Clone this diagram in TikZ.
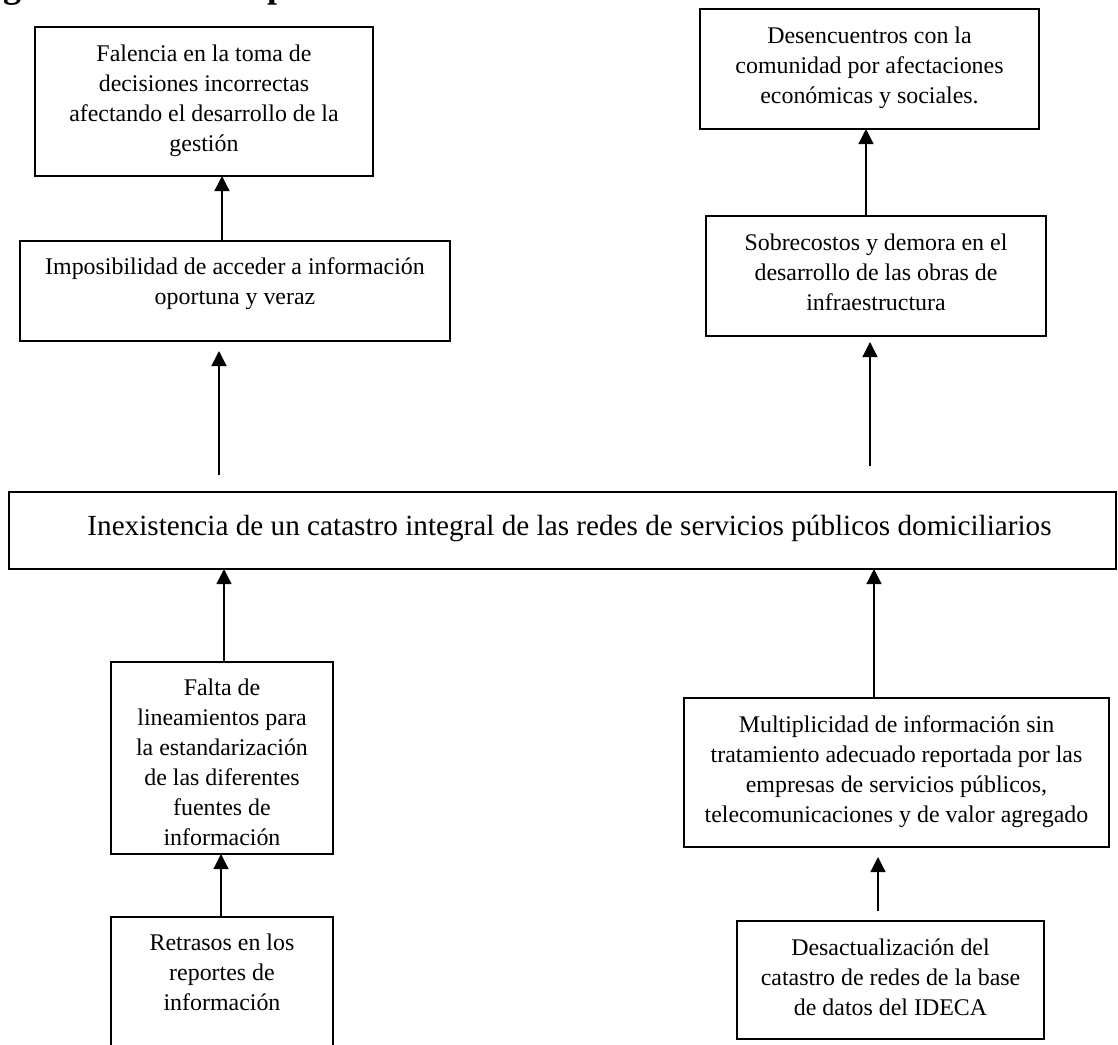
\documentclass[tikz,border=0pt]{standalone}
\usepackage{fontspec}
\setmainfont{Liberation Serif}
\usetikzlibrary{arrows.meta,calc}
\newcommand{\bxt}[4]{\parbox[c][#2][t]{#1}{\centering\rule{0pt}{#3}#4}}
\begin{document}
\begin{tikzpicture}[x=1pt,y=-1pt,
  boxst/.style={draw, line width=1.8pt, inner sep=0pt, outer sep=0pt, anchor=north west,
    font=\fontsize{23.9}{30}\selectfont},
  mainst/.style={boxst, font=\fontsize{29.2}{34}\selectfont},
  arr/.style={-{Triangle[width=15pt,length=15pt]}, line width=1.3pt}]
\clip (0,0) rectangle (1118,1044);
% partially cut title
\node[font=\bfseries\fontsize{36}{40}\selectfont, anchor=base west, inner sep=0pt] (title) at (-29,-2) {Figura 1. Árbol de problemas};
% effects
\node[boxst] (A) at (35,27) {\bxt{338pt}{149pt}{34pt}{Falencia en la toma de\\decisiones incorrectas\\afectando el desarrollo de la\\gestión}};
\node[boxst] (B) at (20,241) {\bxt{430pt}{100pt}{33pt}{Imposibilidad de acceder a información\\oportuna y veraz}};
\node[boxst] (C) at (700,9) {\bxt{339pt}{120pt}{34pt}{Desencuentros con la\\comunidad por afectaciones\\económicas y sociales.}};
\node[boxst] (D) at (706,216) {\bxt{340pt}{120pt}{34pt}{Sobrecostos y demora en el\\desarrollo de las obras de\\infraestructura}};
% central problem
\node[mainst] (E) at (9,492) {\bxt{1107pt}{77pt}{43pt}{\hspace*{14pt}Inexistencia de un catastro integral de las redes de servicios públicos domiciliarios}};
% causes
\node[boxst] (F) at (111,662) {\bxt{222pt}{192pt}{33pt}{Falta de\\lineamientos para\\la estandarización\\de las diferentes\\fuentes de\\información}};
\node[boxst] (G) at (111,917) {\bxt{222pt}{150pt}{33pt}{Retrasos en los\\reportes de\\información}};
\node[boxst] (H) at (684,698) {\bxt{425pt}{149pt}{34pt}{Multiplicidad de información sin\\tratamiento adecuado reportada por las\\empresas de servicios públicos,\\telecomunicaciones y de valor agregado}};
\node[boxst] (I) at (737,921) {\bxt{307pt}{118pt}{34pt}{Desactualización del\\catastro de redes de la base\\de datos del IDECA}};
% x positions of connectors
\coordinate (xAB) at (222,0);
\coordinate (xDC) at (866,0);
\coordinate (xFE) at (224,0);
\coordinate (xGF) at (221,0);
\coordinate (xHE) at (874,0);
% free arrows
\coordinate (p1s) at (219,475);
\coordinate (p1e) at (219,351);
\coordinate (p2s) at (870,466);
\coordinate (p2e) at (870,342);
\coordinate (p3s) at (878,911);
\coordinate (p3e) at (878,857);
% connectors
\draw[arr] (xAB |- B.north) -- (xAB |- A.south);
\draw[arr] (xDC |- D.north) -- (xDC |- C.south);
\draw[arr] (p1s) -- (p1e);
\draw[arr] (p2s) -- (p2e);
\draw[arr] (xFE |- F.north) -- (xFE |- E.south);
\draw[arr] (xGF |- G.north) -- (xGF |- F.south);
\draw[arr] (xHE |- H.north) -- (xHE |- E.south);
\draw[arr] (p3s) -- (p3e);
\end{tikzpicture}
\end{document}
